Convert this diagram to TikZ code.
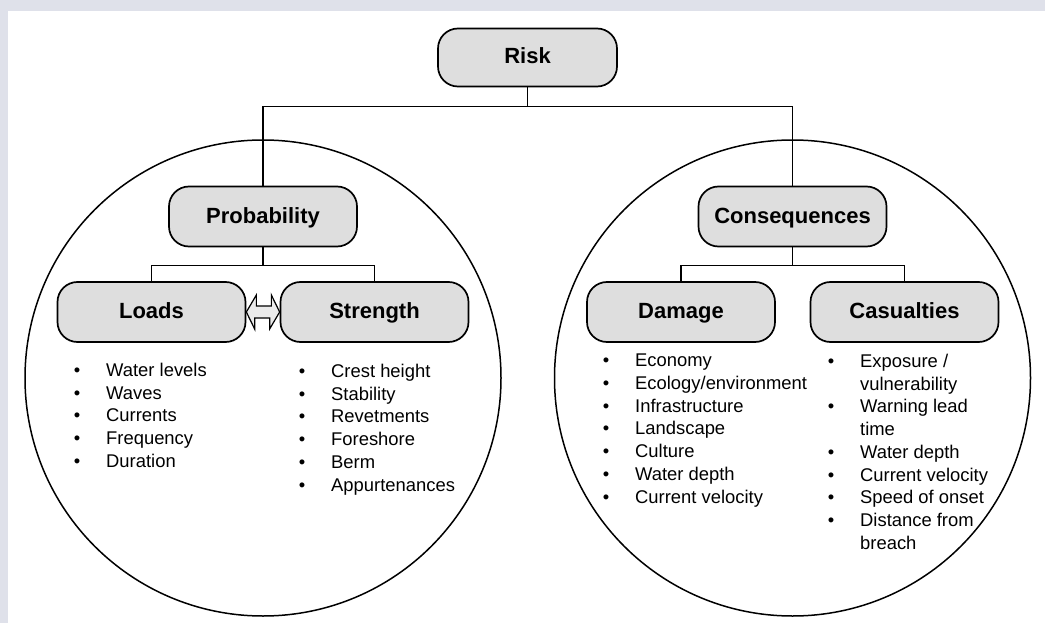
\documentclass[tikz,border=0pt]{standalone}
\usepackage{fontspec}
\setmainfont{Liberation Sans}
\usetikzlibrary{positioning}
\definecolor{boxgray}{RGB}{222,222,222}
\definecolor{framebg}{RGB}{223,225,234}
\newcommand{\itm}{\llap{\textbullet\hspace{26pt}}}

\begin{document}
\begin{tikzpicture}[x=1pt,y=-1pt,
	term/.style={draw, line width=1.7pt, fill=boxgray, rounded corners=20pt, minimum width=188pt, minimum height=60pt, inner sep=0pt, text height=17pt, text depth=4pt, font=\fontsize{22}{26}\selectfont\bfseries},
	zone/.style={circle, draw, line width=1.5pt, fill=white, minimum size=476pt, inner sep=0pt},
	link/.style={line width=1.5pt},
	items/.style={anchor=north west, align=left, inner sep=0pt, font=\fontsize{18.4}{22.7}\selectfont}]
	\fill[framebg] (0,0) rectangle (1045,623);
	\fill[white] (8,11) rectangle (1045,623);
	\useasboundingbox (0,0) rectangle (1045,623);
	% the two fields
	\node (probzone) at (263,378) [zone] {};
	\node (conszone) at (792.5,378) [zone] {};
	% boxes
	\node (risk) at (527.5,57.5) [term, minimum width=179pt, minimum height=58pt] {Risk};
	\node (prob) at (263,216.5) [term] {Probability};
	\node (cons) at (792.5,216.5) [term] {Consequences};
	\node (loads) at (151.5,312) [term] {Loads};
	\node (strength) at (374.5,312) [term] {Strength};
	\node (damage) at (681,312) [term] {Damage};
	\node (casualties) at (904.5,312) [term] {Casualties};
	% tree lines
	\draw[link] (risk.south) -- ++(0,19) -| (prob.north);
	\draw[link] (risk.south) -- ++(0,19) -| (cons.north);
	\draw[link] (prob.south) -- ++(0,18) -| (loads.north);
	\draw[link] (prob.south) -- ++(0,18) -| (strength.north);
	\draw[link] (cons.south) -- ++(0,18) -| (damage.north);
	\draw[link] (cons.south) -- ++(0,18) -| (casualties.north);
	% loads <-> strength
	\draw[line width=1.2pt, fill=boxgray!60] (loads.east) -- ++(10,-17) -- ++(0,11) -- ++(15,0) -- ++(0,-11) -- (strength.west)
		-- ++(-10,17) -- ++(0,-11) -- ++(-15,0) -- ++(0,11) -- cycle;
	% lists
	\node (loadlist) at (106,363) [items] {\itm Water levels\\ \itm Waves\\ \itm Currents\\ \itm Frequency\\ \itm Duration};
	\node (strengthlist) at (331,364) [items] {\itm Crest height\\ \itm Stability\\ \itm Revetments\\ \itm Foreshore\\ \itm Berm\\ \itm Appurtenances};
	\node (damagelist) at (635,354) [items] {\itm Economy\\ \itm Ecology/environment\\ \itm Infrastructure\\ \itm Landscape\\ \itm Culture\\ \itm Water depth\\ \itm Current velocity};
	\node (casualtylist) at (860,354) [items] {\itm Exposure /\\ vulnerability\\ \itm Warning lead\\ time\\ \itm Water depth\\ \itm Current velocity\\ \itm Speed of onset\\ \itm Distance from\\ breach};
\end{tikzpicture}
\end{document}
